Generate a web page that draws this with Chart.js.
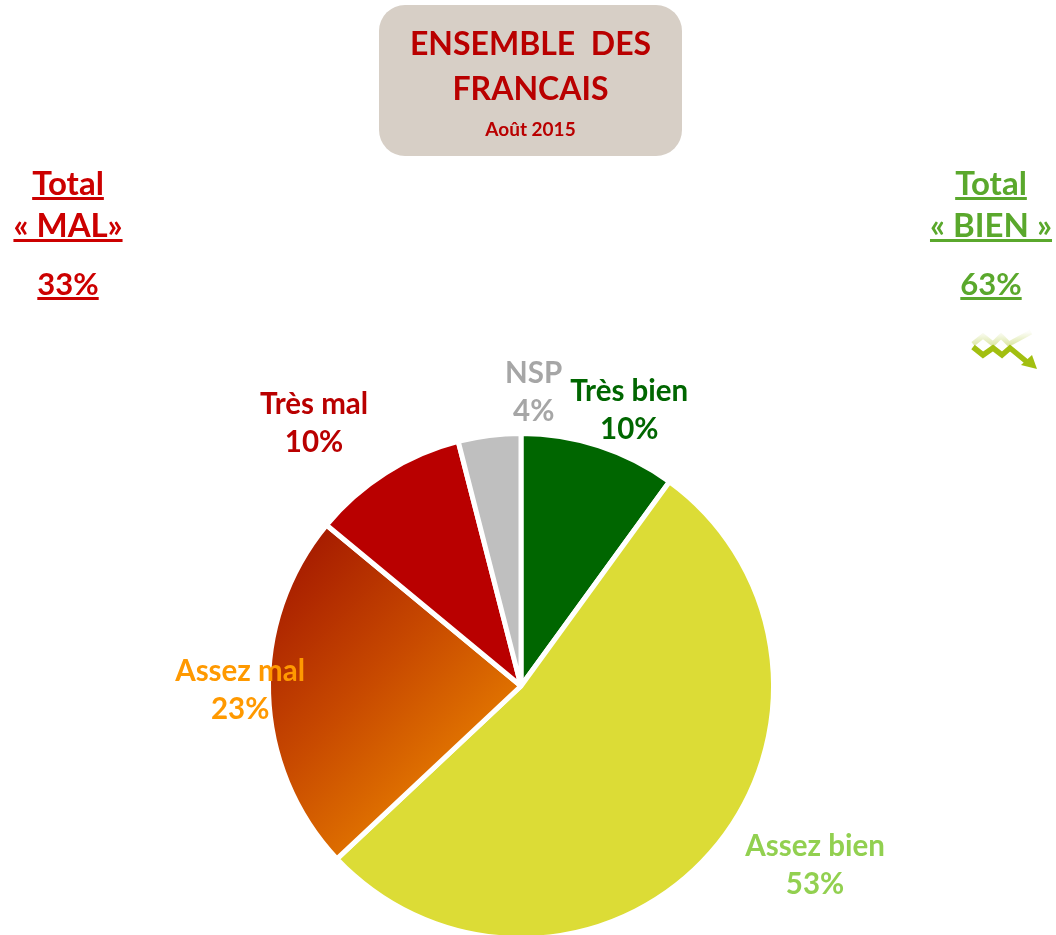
<!DOCTYPE html>
<html lang="fr">
<head>
<meta charset="utf-8">
<title>Ensemble des Français - Août 2015</title>
<script src="https://cdn.jsdelivr.net/npm/chart.js@4"></script>
<style>
html,body{margin:0;padding:0;background:#fff;width:1056px;height:935px;overflow:hidden;font-family:Lato,"Open Sans",sans-serif;font-weight:700}
#wrap{position:relative;width:1056px;height:935px;overflow:hidden}
canvas{position:absolute;left:0;top:0}
.box{position:absolute;left:379px;top:5px;width:303px;height:151px;background:#d7cfc6;border-radius:26px;color:#b90000;text-align:center}
.t{position:absolute;left:0;width:100%;white-space:pre;font-size:32px;line-height:38px}
.s{position:absolute;left:0;width:100%;font-size:19px;line-height:22px;top:113px}
.side{position:absolute;text-align:center;text-decoration:underline;white-space:pre;font-size:33px;line-height:38px;width:200px}
.red{left:-32px;color:#cc0000}
.green{left:891px;color:#5aa82c}
.pct{font-size:31px}
svg{position:absolute;left:960px;top:325px}
</style>
</head>
<body>
<div id="wrap">
<canvas id="c" width="1056" height="945"></canvas>
<div class="box">
<div class="t" style="top:19px">ENSEMBLE  DES</div>
<div class="t" style="top:64px">FRANCAIS</div>
<div class="s">Août 2015</div>
</div>
<div class="side red" style="top:163px">Total</div>
<div class="side red" style="top:205px">« MAL»</div>
<div class="side red pct" style="top:264px">33%</div>
<div class="side green" style="top:163px">Total</div>
<div class="side green" style="top:205px">« BIEN »</div>
<div class="side green pct" style="top:264px">63%</div>
<svg width="90" height="55" viewBox="960 325 90 55">
<defs><linearGradient id="fade" x1="0" y1="1" x2="0" y2="0"><stop offset="0" stop-color="#a6c21a" stop-opacity=".35"/><stop offset="1" stop-color="#a6c21a" stop-opacity=".03"/></linearGradient></defs>
<polyline points="973,344 983,336 993,344 1001,336 1009,344 1031,332" fill="none" stroke="url(#fade)" stroke-width="5"/>
<polyline points="973,347 983,355 993,348 1002,355 1010,348 1027,362" fill="none" stroke="#a2bf10" stroke-width="5.5"/>
<polygon points="1021,365 1032,355 1037,369" fill="#a2bf10"/>
</svg>
</div>
<script>
const categories = ["Très bien", "Assez bien", "Assez mal", "Très mal", "NSP"];
const values = [10, 53, 23, 10, 4];
const valueLabels = ["10%", "53%", "23%", "10%", "4%"];
const labelColors = ["#006600", "#92d050", "#ff9900", "#b90000", "#a6a6a6"];
const labelOffsets = [[31,-57],[106.5,-5],[-31,-22],[-73,-70],[44,-64]];

const canvas = document.getElementById("c");
const ctx = canvas.getContext("2d");
const grad = ctx.createLinearGradient(345, 515, 540, 710);
grad.addColorStop(0, "#a81e00");
grad.addColorStop(0.5, "#c84a00");
grad.addColorStop(1, "#e67c00");
const sliceColors = ["#006600", "#dcdc36", grad, "#b90000", "#bfbfbf"];

const sliceLabels = {
  id: "sliceLabels",
  afterDatasetsDraw(chart) {
    const c = chart.ctx;
    const arcs = chart.getDatasetMeta(0).data;
    c.save();
    c.font = '700 29.5px Lato, "Open Sans", sans-serif';
    c.textAlign = "center";
    c.textBaseline = "middle";
    arcs.forEach((arc, i) => {
      const mid = (arc.startAngle + arc.endAngle) / 2;
      const px = arc.x + Math.cos(mid) * 250 + labelOffsets[i][0];
      const py = arc.y + Math.sin(mid) * 250 + labelOffsets[i][1];
      c.fillStyle = labelColors[i];
      c.fillText(categories[i], px, py);
      c.fillText(valueLabels[i], px, py + 38);
    });
    c.restore();
  }
};

new Chart(ctx, {
  type: "pie",
  data: { labels: categories, datasets: [{ data: values, backgroundColor: sliceColors, borderColor: "#ffffff", borderWidth: 5 }] },
  options: {
    responsive: false,
    animation: false,
    layout: { padding: { left: 266, right: 280, top: 431, bottom: 4 } },
    plugins: { legend: { display: false }, tooltip: { enabled: false }, title: { display: false } }
  },
  plugins: [sliceLabels]
});
</script>
</body>
</html>
